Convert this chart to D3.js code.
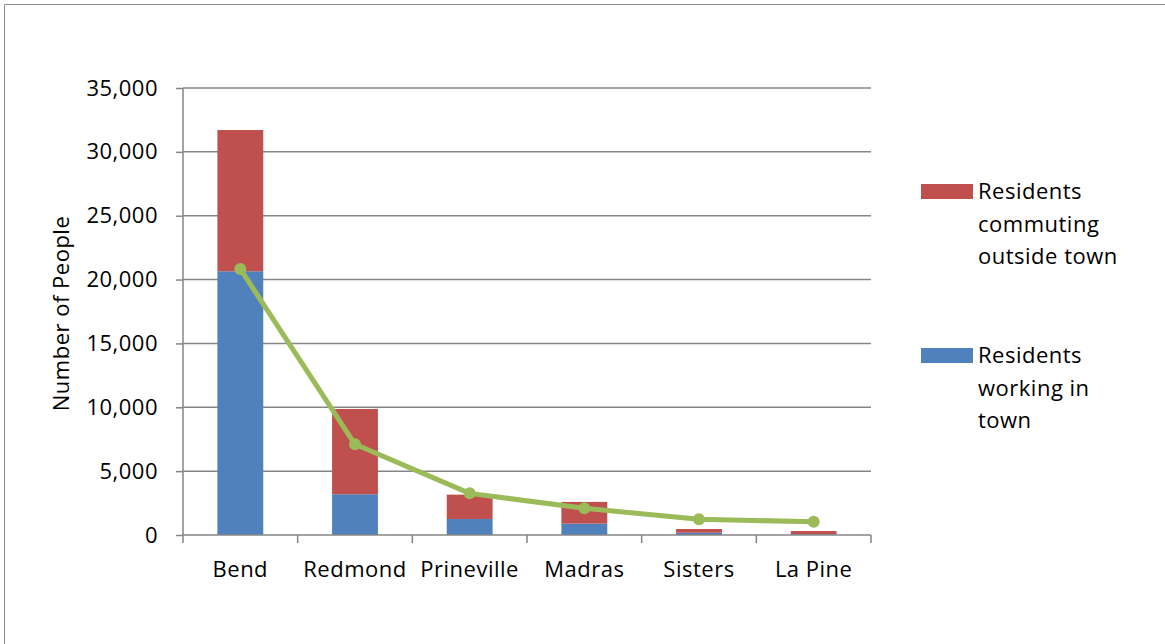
<!DOCTYPE html>
<html>
<head>
<meta charset="utf-8">
<script src="https://cdn.jsdelivr.net/npm/d3@7"></script>
<style>
  html, body { margin: 0; padding: 0; background: #fff; }
  svg { display: block; font-family: "Open Sans", sans-serif; }
  text { letter-spacing: 0.5px; }
</style>
</head>
<body>
<svg id="chart" width="1165" height="644"></svg>
<script>
// Commuting patterns by town
const towns = ["Bend", "Redmond", "Prineville", "Madras", "Sisters", "La Pine"];
const workingInTown = [20650, 3190, 1250, 890, 180, 60];
const commutingOut = [11060, 6680, 1910, 1700, 290, 250];
const totalJobs = [20830, 7100, 3260, 2090, 1230, 1040];
const yTicks = [0, 5000, 10000, 15000, 20000, 25000, 30000, 35000];
const seriesNames = ["Residents working in town", "Residents commuting outside town"];
const legendLines = [["Residents", "commuting", "outside town"], ["Residents", "working in", "town"]];

const colors = { working: "#4F81BD", commuting: "#C0504D", line: "#9BBB59", grid: "#868686" };

const svg = d3.select("#chart");

// Outer frame
svg.append("path")
  .attr("d", "M4.5,644 V4.5 H1165")
  .attr("fill", "none").attr("stroke", "#8c8c8c").attr("stroke-width", 1);

const plot = { left: 183, right: 871, top: 88, bottom: 535 };

const x = d3.scaleBand().domain(towns).range([plot.left, plot.right]).paddingInner(0.6).paddingOuter(0.3);
const xCat = d3.scaleBand().domain(towns).range([plot.left, plot.right]);
const y = d3.scaleLinear().domain([0, 35000]).range([plot.bottom, plot.top]);

// Horizontal gridlines
svg.append("g").selectAll("line").data(yTicks.filter(d => d > 0)).join("line")
  .attr("x1", plot.left).attr("x2", plot.right)
  .attr("y1", d => y(d)).attr("y2", d => y(d))
  .attr("stroke", colors.grid).attr("stroke-width", 1.5);

// Y axis
const yAxis = svg.append("g").attr("transform", `translate(${plot.left},0)`)
  .call(d3.axisLeft(y).tickValues(yTicks).tickSize(7).tickPadding(18).tickFormat(d3.format(",")));
yAxis.select(".domain").attr("stroke", colors.grid).attr("stroke-width", 1.5).attr("d", `M0,${plot.top}V${plot.bottom}`);
yAxis.selectAll(".tick line").attr("stroke", colors.grid).attr("stroke-width", 1.5);
yAxis.selectAll(".tick text").attr("font-size", 22).attr("fill", "#000").attr("font-family", "Open Sans, sans-serif");

// Stacked bars
const stackData = towns.map((t, i) => ({ town: t, working: workingInTown[i], commuting: commutingOut[i] }));
const stack = d3.stack().keys(["working", "commuting"])(stackData);
svg.append("g").selectAll("g").data(stack).join("g")
  .attr("fill", d => colors[d.key])
  .selectAll("rect").data(d => d).join("rect")
  .attr("x", d => x(d.data.town))
  .attr("width", x.bandwidth())
  .attr("y", d => y(d[1]))
  .attr("height", d => y(d[0]) - y(d[1]));

// X axis
const xAxisG = svg.append("g").attr("transform", `translate(0,${plot.bottom})`);
xAxisG.append("line").attr("x1", plot.left).attr("x2", plot.right)
  .attr("stroke", colors.grid).attr("stroke-width", 1.5);
const boundaries = towns.map(t => xCat(t)).concat([plot.right]);
xAxisG.selectAll("line.tk").data(boundaries).join("line").attr("class", "tk")
  .attr("x1", d => d).attr("x2", d => d).attr("y1", 0).attr("y2", 8)
  .attr("stroke", colors.grid).attr("stroke-width", 1.5);
xAxisG.selectAll("text").data(towns).join("text")
  .attr("x", d => xCat(d) + xCat.bandwidth() / 2)
  .attr("y", 42)
  .attr("text-anchor", "middle")
  .attr("font-size", 22)
  .text(d => d);

// Line series
const cx = t => xCat(t) + xCat.bandwidth() / 2;
const line = d3.line().x((d, i) => cx(towns[i])).y(d => y(d));
svg.append("path").datum(totalJobs)
  .attr("d", line).attr("fill", "none")
  .attr("stroke", colors.line).attr("stroke-width", 5).attr("stroke-linejoin", "round");
svg.append("g").selectAll("circle").data(totalJobs).join("circle")
  .attr("cx", (d, i) => cx(towns[i])).attr("cy", d => y(d)).attr("r", 6)
  .attr("fill", colors.line);

// Y axis title
svg.append("text")
  .attr("transform", `translate(69,${(plot.top + plot.bottom) / 2 + 2}) rotate(-90)`)
  .attr("text-anchor", "middle")
  .attr("font-size", 22)
  .text("Number of People");

// Legend
const legendItems = [
  { color: colors.commuting, lines: legendLines[0], top: 184 },
  { color: colors.working, lines: legendLines[1], top: 348 }
];
const lg = svg.append("g").selectAll("g").data(legendItems).join("g");
lg.append("rect").attr("x", 921).attr("y", d => d.top).attr("width", 52).attr("height", 15).attr("fill", d => d.color);
lg.each(function(d) {
  d3.select(this).selectAll("text").data(d.lines).join("text")
    .attr("x", 978)
    .attr("y", (l, i) => d.top + 15 + i * 32.5)
    .attr("font-size", 22)
    .text(l => l);
});
</script>
</body>
</html>
